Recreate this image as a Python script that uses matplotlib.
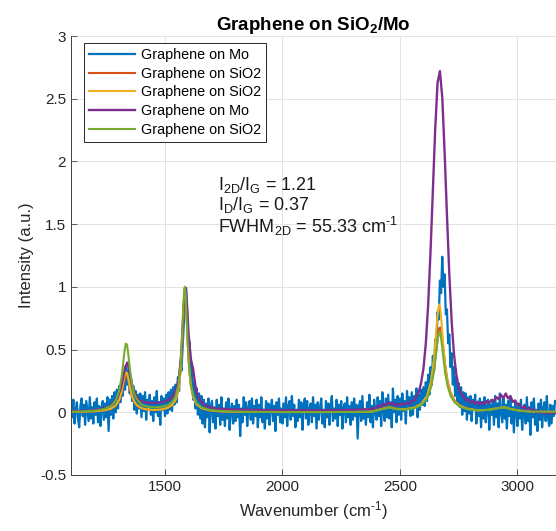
import numpy as np
import matplotlib.pyplot as plt
from matplotlib.ticker import FormatStrFormatter

plt.rcParams['font.family'] = ['Liberation Sans', 'DejaVu Sans']
plt.rcParams['mathtext.fontset'] = 'custom'
plt.rcParams['mathtext.rm'] = 'Liberation Sans'
plt.rcParams['mathtext.it'] = 'Liberation Sans:italic'
plt.rcParams['mathtext.bf'] = 'Liberation Sans:bold'
plt.rcParams['axes.unicode_minus'] = False

# --- spectra ---
# noisy Mo spectrum, every 5 cm-1 from 1100 to 3160 (one row = 50 cm-1)
wn_5 = np.arange(1100, 3161, 5)
mo_noisy = [
    0.07, -0.04, 0.10, -0.09, 0.02, 0.08, -0.06, -0.12, 0.05, 0.11,
    -0.03, 0.06, -0.10, 0.09, 0.01, -0.07, 0.12, -0.05, 0.04, -0.09,
    0.08, -0.02, 0.11, -0.08, 0.05, -0.11, 0.03, 0.09, -0.06, 0.07,
    -0.04, 0.12, -0.15, 0.10, -0.02, 0.13, -0.05, 0.16, 0.00, 0.18,
    0.03, 0.21, 0.08, 0.25, 0.13, 0.30, 0.18, 0.36, 0.22, 0.33,
    0.15, 0.28, 0.09, 0.21, 0.02, 0.17, -0.01, 0.14, 0.03, 0.15,
    -0.04, 0.13, 0.01, 0.16, -0.06, 0.10, 0.04, 0.14, -0.02, 0.09,
    -0.07, 0.12, 0.00, 0.17, -0.03, 0.08, -0.10, 0.13, 0.02, 0.11,
    -0.03, 0.14, -0.01, 0.16, 0.02, 0.18, 0.01, 0.20, 0.06, 0.22,
    0.08, 0.28, 0.17, 0.40, 0.33, 0.52, 0.70, 0.86, 0.94, 0.78,
    0.52, 0.56, 0.25, 0.37, 0.10, 0.24, 0.03, 0.19, -0.02, 0.15,
    -0.05, 0.13, -0.09, 0.10, -0.12, 0.07, -0.04, 0.11, -0.16, 0.05,
    0.09, -0.08, 0.04, -0.13, 0.10, -0.03, 0.06, -0.10, 0.12, -0.06,
    0.03, -0.11, 0.08, -0.05, 0.11, -0.14, 0.02, 0.07, -0.09, 0.05,
    -0.07, 0.10, -0.04, 0.06, -0.19, 0.03, -0.08, 0.12, -0.02, 0.08,
    -0.11, 0.04, 0.09, -0.06, 0.11, -0.09, 0.05, -0.03, 0.10, -0.12,
    0.06, -0.04, 0.12, -0.08, 0.02, -0.13, 0.09, -0.05, 0.07, -0.10,
    0.04, 0.10, -0.07, 0.05, -0.15, 0.08, -0.02, 0.11, -0.08, 0.03,
    -0.09, 0.07, -0.04, 0.12, -0.11, 0.05, 0.09, -0.06, 0.13, -0.03,
    0.06, -0.12, 0.02, -0.07, 0.10, -0.04, 0.08, -0.14, 0.05, 0.11,
    -0.05, 0.09, -0.10, 0.03, 0.07, -0.08, 0.12, -0.03, 0.06, -0.13,
    0.08, -0.06, 0.04, 0.11, -0.09, 0.02, -0.12, 0.09, -0.04, 0.07,
    -0.10, 0.05, 0.13, -0.07, 0.03, -0.05, 0.10, -0.11, 0.06, -0.02,
    0.09, -0.13, 0.04, 0.07, -0.08, 0.12, -0.04, 0.05, -0.10, 0.08,
    -0.06, 0.11, -0.03, 0.06, -0.21, 0.04, 0.09, -0.07, 0.13, -0.05,
    0.02, -0.10, 0.08, -0.04, 0.14, -0.08, 0.05, -0.12, 0.10, 0.01,
    -0.06, 0.12, -0.03, 0.09, -0.11, 0.16, 0.02, -0.07, 0.11, -0.04,
    0.14, -0.05, 0.08, -0.12, 0.19, 0.00, 0.10, -0.08, 0.13, -0.02,
    0.11, -0.06, 0.15, 0.01, 0.09, -0.09, 0.17, 0.03, 0.12, -0.03,
    0.16, -0.02, 0.13, 0.04, 0.19, -0.04, 0.14, 0.02, 0.18, 0.06,
    0.20, 0.05, 0.24, 0.09, 0.30, 0.14, 0.36, 0.22, 0.45, 0.33,
    0.58, 0.52, 0.80, 0.74, 1.05, 0.95, 1.24, 1.00, 1.10, 0.78,
    0.82, 0.55, 0.62, 0.36, 0.47, 0.22, 0.36, 0.13, 0.28, 0.07,
    0.23, 0.04, 0.20, -0.02, 0.16, 0.01, 0.15, -0.06, 0.12, -0.01,
    0.13, -0.07, 0.10, 0.02, 0.14, -0.09, 0.07, -0.03, 0.11, -0.12,
    0.08, -0.05, 0.12, -0.08, 0.04, 0.10, -0.14, 0.06, -0.02, 0.09,
    -0.10, 0.13, -0.04, 0.07, -0.12, 0.15, 0.01, -0.08, 0.11, -0.05,
    0.06, -0.13, 0.09, -0.03, 0.12, -0.09, 0.04, -0.16, 0.08, 0.02,
    -0.11, 0.07, -0.05, 0.10, -0.14, 0.03, 0.06, -0.09, 0.12, -0.07,
    0.04, -0.18, 0.08, -0.04, 0.11, -0.10, 0.02, -0.15, 0.07, -0.06,
    0.10, -0.12, 0.03, 0.08, -0.07, 0.13, -0.04, -0.11, 0.06, -0.09,
    0.05, -0.03, 0.09,
]

# second Mo spectrum (purple), every 10 cm-1 from 1100 to 3160
wn_10 = np.arange(1100, 3161, 10)
mo_2 = [
    0.008, 0.010, 0.007, 0.011, 0.009, 0.012, 0.010, 0.013, 0.012, 0.016,
    0.019, 0.023, 0.024, 0.029, 0.031, 0.037, 0.046, 0.060, 0.074, 0.098,
    0.131, 0.178, 0.255, 0.358, 0.397, 0.317, 0.220, 0.160, 0.120, 0.100,
    0.088, 0.082, 0.079, 0.074, 0.077, 0.073, 0.076, 0.075, 0.080, 0.081,
    0.088, 0.093, 0.106, 0.121, 0.150, 0.195, 0.286, 0.480, 0.850, 0.990,
    0.634, 0.426, 0.340, 0.206, 0.130, 0.092, 0.070, 0.056, 0.047, 0.040,
    0.035, 0.032, 0.030, 0.028, 0.027, 0.026, 0.025, 0.024, 0.023, 0.023,
    0.022, 0.021, 0.022, 0.020, 0.021, 0.019, 0.020, 0.019, 0.018, 0.019,
    0.018, 0.017, 0.018, 0.017, 0.016, 0.018, 0.017, 0.016, 0.017, 0.016,
    0.016, 0.017, 0.015, 0.016, 0.017, 0.015, 0.016, 0.015, 0.016, 0.017,
    0.016, 0.015, 0.016, 0.017, 0.015, 0.016, 0.017, 0.016, 0.015, 0.016,
    0.017, 0.016, 0.018, 0.017, 0.016, 0.018, 0.017, 0.019, 0.018, 0.019,
    0.020, 0.019, 0.021, 0.022, 0.021, 0.023, 0.024, 0.026, 0.028, 0.031,
    0.040, 0.052, 0.046, 0.066, 0.060, 0.080, 0.064, 0.075, 0.056, 0.070,
    0.055, 0.072, 0.058, 0.078, 0.066, 0.092, 0.090, 0.130, 0.160, 0.236,
    0.350, 0.550, 0.860, 1.280, 1.770, 2.260, 2.630, 2.720, 2.510, 2.070,
    1.570, 1.100, 0.720, 0.460, 0.300, 0.200, 0.150, 0.125, 0.095, 0.100,
    0.075, 0.090, 0.066, 0.085, 0.060, 0.082, 0.066, 0.090, 0.074, 0.100,
    0.090, 0.120, 0.105, 0.140, 0.112, 0.150, 0.110, 0.130, 0.082, 0.095,
    0.060, 0.065, 0.032, 0.048, 0.020, 0.035, 0.005, 0.022, -0.005, 0.014,
    -0.008, 0.008, -0.010, 0.004, -0.012, 0.002, -0.008,
]

# smooth SiO2 spectra on a denser grid around the bands
wn_s = [1100, 1150, 1200, 1240, 1270, 1290, 1305, 1315, 1322, 1328,
        1333, 1338, 1343, 1350, 1358, 1368, 1380, 1400, 1425, 1450,
        1480, 1510, 1530, 1545, 1557, 1566, 1573, 1578, 1582, 1585,
        1588, 1592, 1597, 1603, 1610, 1620, 1635, 1655, 1690, 1740,
        1800, 1900, 2000, 2100, 2200, 2300, 2380, 2430, 2455, 2480,
        2520, 2560, 2590, 2615, 2632, 2645, 2655, 2662, 2667, 2672,
        2677, 2684, 2692, 2702, 2715, 2732, 2755, 2785, 2830, 2880,
        2920, 2945, 2970, 3010, 3060, 3110, 3165]

sio2_1 = [0.003, 0.005, 0.008, 0.014, 0.028, 0.052, 0.094, 0.152, 0.213, 0.270,
          0.300, 0.296, 0.261, 0.195, 0.133, 0.085, 0.054, 0.031, 0.021, 0.018,
          0.021, 0.034, 0.058, 0.099, 0.180, 0.321, 0.542, 0.775, 0.950, 1.000,
          0.950, 0.775, 0.540, 0.343, 0.213, 0.121, 0.063, 0.033, 0.015, 0.007,
          0.004, 0.003, 0.002, 0.002, 0.002, 0.003, 0.005, 0.032, 0.044, 0.030,
          0.023, 0.035, 0.061, 0.116, 0.205, 0.340, 0.500, 0.617, 0.670, 0.676,
          0.630, 0.518, 0.383, 0.258, 0.160, 0.095, 0.054, 0.031, 0.016, 0.020,
          0.035, 0.040, 0.027, 0.012, 0.006, 0.004, 0.003]

sio2_2 = [0.003, 0.005, 0.008, 0.015, 0.029, 0.055, 0.100, 0.162, 0.227, 0.287,
          0.319, 0.315, 0.278, 0.208, 0.141, 0.090, 0.057, 0.033, 0.022, 0.019,
          0.021, 0.034, 0.058, 0.099, 0.180, 0.321, 0.542, 0.775, 0.950, 1.000,
          0.950, 0.775, 0.540, 0.343, 0.213, 0.121, 0.063, 0.033, 0.015, 0.007,
          0.004, 0.003, 0.002, 0.002, 0.002, 0.003, 0.005, 0.028, 0.039, 0.027,
          0.024, 0.037, 0.065, 0.130, 0.244, 0.430, 0.663, 0.818, 0.860, 0.818,
          0.713, 0.539, 0.376, 0.244, 0.149, 0.088, 0.051, 0.029, 0.015, 0.020,
          0.034, 0.040, 0.027, 0.012, 0.006, 0.004, 0.003]

sio2_3 = [0.005, 0.007, 0.013, 0.025, 0.050, 0.093, 0.172, 0.278, 0.390, 0.493,
          0.547, 0.541, 0.477, 0.356, 0.241, 0.152, 0.105, 0.060, 0.045, 0.040,
          0.042, 0.055, 0.080, 0.128, 0.216, 0.381, 0.622, 0.848, 0.983, 0.998,
          0.928, 0.757, 0.540, 0.355, 0.227, 0.133, 0.072, 0.039, 0.018, 0.009,
          0.005, 0.003, 0.002, 0.002, 0.002, 0.003, 0.005, 0.028, 0.038, 0.026,
          0.021, 0.032, 0.056, 0.109, 0.197, 0.334, 0.495, 0.602, 0.640, 0.623,
          0.561, 0.443, 0.320, 0.213, 0.132, 0.079, 0.045, 0.026, 0.014, 0.019,
          0.034, 0.039, 0.026, 0.012, 0.006, 0.004, 0.003]

labels = ['Graphene on Mo', 'Graphene on SiO2', 'Graphene on SiO2',
          'Graphene on Mo', 'Graphene on SiO2']
colors = ['#0072BD', '#D95319', '#EDB120', '#7E2F8E', '#77AC30']
x_ticks = [1500, 2000, 2500, 3000]
y_ticks = [-0.5, 0, 0.5, 1, 1.5, 2, 2.5, 3]

fig = plt.figure(figsize=(5.56, 5.31), dpi=100)
ax = fig.add_axes([0.1277, 0.1055, 0.8723, 0.8267])

ax.plot(wn_5, mo_noisy, color=colors[0], lw=1.6, label=labels[0])
ax.plot(wn_s, sio2_1, color=colors[1], lw=1.5, label=labels[1])
ax.plot(wn_s, sio2_2, color=colors[2], lw=1.5, label=labels[2])
ax.plot(wn_10, mo_2, color=colors[3], lw=1.7, label=labels[3])
ax.plot(wn_s, sio2_3, color=colors[4], lw=1.5, label=labels[4])

ax.set_xlim(1100, 3164)
ax.set_ylim(-0.5, 3)
ax.set_xticks(x_ticks)
ax.set_yticks(y_ticks)
ax.yaxis.set_major_formatter(FormatStrFormatter('%g'))
ax.grid(True, color='#e3e3e3', lw=0.7)
ax.set_axisbelow(True)
for s in ['top', 'right']:
    ax.spines[s].set_visible(False)
for s in ['left', 'bottom']:
    ax.spines[s].set_color('#404040')
    ax.spines[s].set_linewidth(0.7)
ax.tick_params(direction='in', length=4, width=0.6, color='#404040',
               labelcolor='#262626', labelsize=11)

ax.set_xlabel(r'Wavenumber (cm$^{\text{-1}}$)', fontsize=12, color='#262626')
ax.set_ylabel('Intensity (a.u.)', fontsize=12, color='#262626')
ax.set_title(r'Graphene on SiO$_{\mathbf{2}}$/Mo', fontsize=13.5,
             fontweight='bold', pad=4)

ax.text(1725, 1.64, 'I$_{\\mathrm{2D}}$/I$_{\\mathrm{G}}$ = 1.21\n'
        'I$_{\\mathrm{D}}$/I$_{\\mathrm{G}}$ = 0.37\n'
        'FWHM$_{\\mathrm{2D}}$ = 55.33 cm$^{\\text{-1}}$',
        fontsize=13, va='center', ha='left', linespacing=1.0, color='#1a1a1a')

leg = ax.legend(loc='upper left', bbox_to_anchor=(0.027, 0.984), fontsize=10.4,
                handlelength=3.2, handletextpad=0.4, labelspacing=0.32,
                borderpad=0.35, borderaxespad=0, fancybox=False,
                edgecolor='#262626', framealpha=1)
leg.get_frame().set_linewidth(0.7)

plt.savefig('out.png', dpi=100)
